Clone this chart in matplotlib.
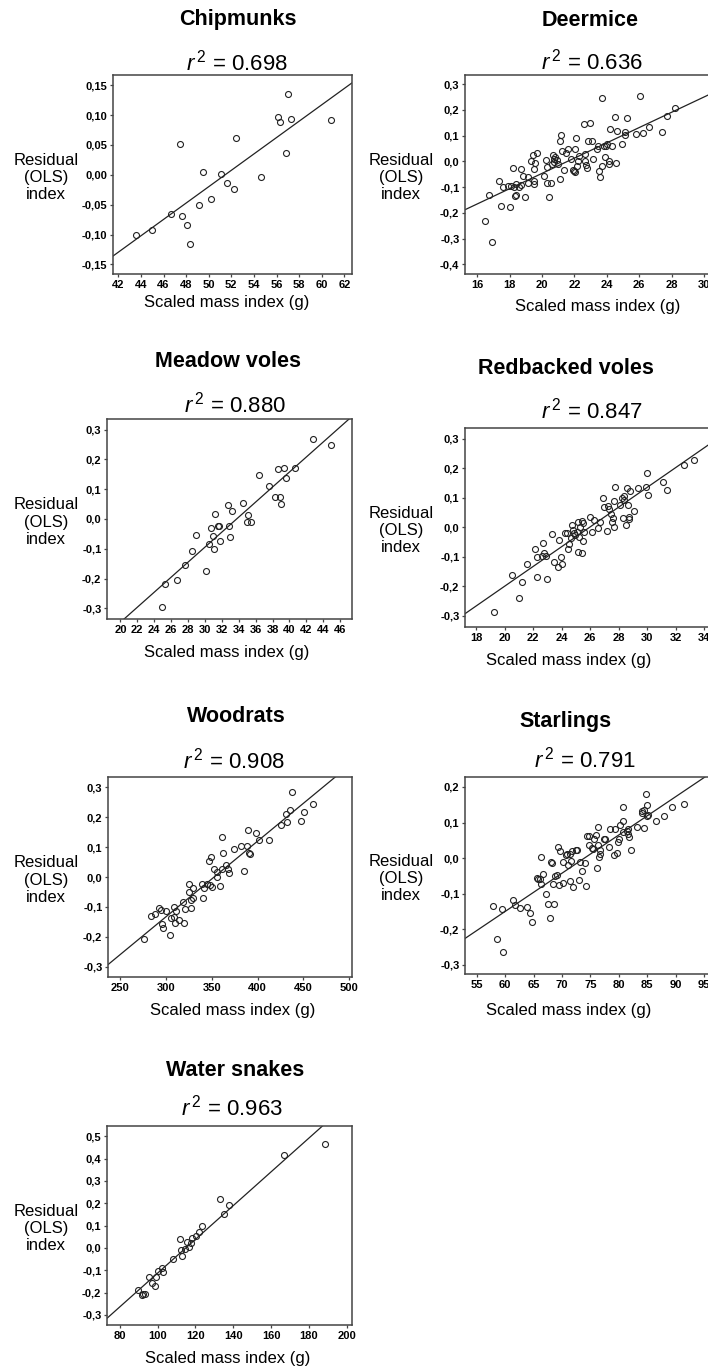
import matplotlib
matplotlib.use('Agg')
import matplotlib.pyplot as plt
from matplotlib.ticker import FixedLocator, FuncFormatter
import numpy as np

plt.rcParams['font.family'] = ['Liberation Sans', 'DejaVu Sans']
plt.rcParams['mathtext.fontset'] = 'custom'
plt.rcParams['mathtext.rm'] = 'Liberation Sans'
plt.rcParams['mathtext.it'] = 'Liberation Sans:italic'

W, H = 708, 1371

# --- data ---
species = ['Chipmunks', 'Deermice', 'Meadow voles', 'Redbacked voles',
           'Woodrats', 'Starlings', 'Water snakes']
r_squared = ['0.698', '0.636', '0.880', '0.847', '0.908', '0.791', '0.963']

chip_x = [43.6, 45.0, 46.7, 47.5, 47.6, 48.1, 48.3, 49.1, 49.5, 50.2, 51.1,
          51.6, 52.2, 52.4, 54.6, 56.1, 56.3, 56.8, 57.0, 57.3, 60.8]
chip_y = [-0.100, -0.092, -0.066, 0.052, -0.069, -0.084, -0.115, -0.050,
          0.004, -0.040, 0.002, -0.013, -0.024, 0.062, -0.003, 0.096, 0.088,
          0.036, 0.136, 0.094, 0.092]

deer_x = [16.47, 16.72, 16.91, 17.32, 17.46, 17.61, 17.91, 18.00, 18.08,
          18.22, 18.29, 18.35, 18.41, 18.41, 18.55, 18.68, 18.68, 18.82,
          18.92, 19.11, 19.11, 19.31, 19.42, 19.50, 19.50, 19.50, 19.56,
          19.70, 20.12, 20.24, 20.30, 20.30, 20.43, 20.53, 20.59, 20.70,
          20.74, 20.76, 20.80, 20.90, 21.00, 21.11, 21.11, 21.19, 21.25,
          21.35, 21.46, 21.58, 21.79, 21.89, 21.97, 22.03, 22.03, 22.07,
          22.14, 22.20, 22.28, 22.59, 22.65, 22.67, 22.73, 22.79, 22.81,
          22.94, 23.08, 23.12, 23.41, 23.45, 23.50, 23.56, 23.68, 23.68,
          23.83, 23.87, 23.93, 24.01, 24.11, 24.15, 24.19, 24.34, 24.48,
          24.57, 24.61, 24.92, 25.12, 25.12, 25.22, 25.80, 26.05, 26.25,
          26.58, 27.39, 27.69, 28.21]
deer_y = [-0.232, -0.131, -0.313, -0.075, -0.175, -0.101, -0.095, -0.179,
          -0.095, -0.025, -0.101, -0.134, -0.088, -0.130, -0.099, -0.030,
          -0.091, -0.056, -0.140, -0.062, -0.086, 0.001, 0.026, -0.075,
          -0.088, -0.030, -0.006, 0.032, -0.057, 0.005, -0.023, -0.083,
          -0.137, -0.083, -0.010, 0.026, 0.009, -0.004, 0.016, 0.005,
          -0.010, -0.069, 0.080, 0.104, 0.042, -0.034, 0.032, 0.048, 0.009,
          -0.032, -0.036, 0.048, -0.042, 0.092, -0.017, 0.003, 0.022, 0.147,
          0.003, 0.030, -0.013, -0.026, 0.080, 0.150, 0.080, 0.009, 0.048,
          0.061, -0.036, -0.062, 0.246, -0.019, 0.061, 0.016, 0.061, 0.067,
          -0.010, 0.003, 0.126, 0.058, 0.171, -0.008, 0.119, 0.069, 0.115,
          0.104, 0.167, 0.105, 0.256, 0.112, 0.135, 0.113, 0.176, 0.206]

mvole_x = [24.97, 25.24, 26.70, 27.65, 28.52, 28.99, 30.17, 30.49, 30.77,
           31.00, 31.12, 31.20, 31.51, 31.63, 31.75, 32.78, 32.86, 32.93,
           33.25, 34.47, 35.02, 35.06, 35.42, 36.40, 37.55, 38.34, 38.69,
           38.89, 39.01, 39.40, 39.60, 40.70, 42.83, 44.96]
mvole_y = [-0.296, -0.218, -0.206, -0.155, -0.107, -0.053, -0.175, -0.085,
           -0.031, -0.058, -0.100, 0.017, -0.025, -0.025, -0.073, 0.047,
           -0.022, -0.059, 0.026, 0.055, -0.011, 0.015, -0.009, 0.148, 0.112,
           0.075, 0.167, 0.075, 0.049, 0.171, 0.139, 0.171, 0.270, 0.249]

rvole_x = [19.29, 20.55, 21.01, 21.22, 21.55, 22.16, 22.25, 22.30, 22.60,
           22.72, 22.77, 22.88, 22.98, 23.30, 23.49, 23.72, 23.84, 23.93,
           24.00, 24.24, 24.38, 24.47, 24.52, 24.64, 24.71, 24.82, 24.89,
           24.94, 25.06, 25.13, 25.13, 25.20, 25.31, 25.41, 25.43, 25.50,
           25.52, 25.57, 26.01, 26.11, 26.27, 26.53, 26.69, 26.88, 27.00,
           27.18, 27.28, 27.35, 27.46, 27.53, 27.60, 27.65, 27.67, 27.74,
           28.12, 28.21, 28.28, 28.35, 28.40, 28.49, 28.56, 28.68, 28.72,
           28.75, 28.82, 29.05, 29.38, 29.89, 30.01, 30.08, 31.08, 31.36,
           32.60, 33.28]
rvole_y = [-0.287, -0.162, -0.239, -0.186, -0.124, -0.074, -0.169, -0.101,
           -0.099, -0.052, -0.088, -0.098, -0.176, -0.023, -0.119, -0.135,
           -0.044, -0.101, -0.125, -0.020, -0.020, -0.073, -0.057, -0.037,
           0.006, -0.009, -0.020, -0.028, -0.015, -0.084, 0.019, -0.032,
           0.002, 0.021, -0.086, 0.014, -0.046, -0.015, 0.033, -0.015, 0.023,
           -0.001, 0.016, 0.100, 0.070, -0.012, 0.072, 0.062, 0.045, 0.016,
           0.030, 0.089, 0.000, 0.137, 0.075, 0.100, 0.030, 0.092, 0.104,
           0.008, 0.134, 0.075, 0.027, 0.034, 0.123, 0.055, 0.134, 0.137,
           0.182, 0.109, 0.152, 0.126, 0.211, 0.226]

wood_x = [275.5, 283.9, 288.3, 292.7, 294.2, 295.6, 296.0, 299.3, 304.4,
          305.5, 309.1, 308.8, 309.5, 311.3, 313.9, 317.9, 319.0, 320.8,
          324.8, 325.5, 327.0, 327.7, 328.8, 329.6, 339.1, 340.1, 341.2,
          344.9, 346.7, 347.8, 348.9, 349.6, 352.2, 355.5, 355.8, 358.8,
          360.6, 361.3, 362.4, 365.3, 367.2, 368.2, 373.7, 382.1, 388.0,
          385.0, 389.4, 390.5, 391.6, 397.8, 401.8, 412.8, 425.5, 431.0,
          432.5, 435.4, 437.6, 447.1, 451.1, 460.2]
wood_y = [-0.207, -0.129, -0.122, -0.105, -0.110, -0.158, -0.171, -0.113,
          -0.194, -0.138, -0.099, -0.133, -0.152, -0.114, -0.142, -0.084,
          -0.155, -0.108, -0.025, -0.049, -0.077, -0.105, -0.038, -0.069,
          -0.025, -0.071, -0.036, -0.025, 0.054, -0.027, 0.068, -0.035,
          0.027, 0.018, 0.001, -0.030, 0.027, 0.135, 0.081, 0.040, 0.027,
          0.014, 0.094, 0.105, 0.105, 0.021, 0.157, 0.081, 0.077, 0.146,
          0.124, 0.124, 0.172, 0.209, 0.185, 0.224, 0.282, 0.187, 0.217,
          0.242]

star_x = [57.81, 58.52, 59.40, 59.57, 61.45, 61.68, 62.62, 63.85, 64.38,
          64.73, 65.61, 65.85, 66.14, 66.26, 66.32, 66.67, 67.19, 67.49,
          67.90, 68.07, 68.19, 68.43, 68.66, 68.78, 69.13, 69.36, 69.48,
          69.72, 70.18, 70.24, 70.65, 70.83, 71.12, 71.36, 71.42, 71.59,
          71.71, 72.00, 72.41, 72.59, 73.00, 73.17, 73.58, 74.11, 74.23,
          74.46, 74.82, 74.76, 75.23, 75.46, 75.70, 75.99, 76.22, 76.28,
          76.40, 76.52, 76.63, 76.69, 77.34, 77.57, 78.28, 78.45, 79.15,
          79.33, 79.62, 79.80, 80.09, 80.27, 80.68, 80.74, 80.80, 81.38,
          81.56, 81.68, 81.85, 82.14, 83.14, 84.02, 84.14, 84.43, 84.49,
          84.72, 84.96, 85.02, 85.19, 86.54, 88.01, 89.41, 91.41]
star_y = [-0.135, -0.227, -0.142, -0.263, -0.118, -0.133, -0.140, -0.137,
          -0.155, -0.179, -0.056, -0.058, -0.059, 0.002, -0.073, -0.045,
          -0.100, -0.130, -0.169, -0.012, -0.014, -0.073, -0.130, -0.051,
          -0.047, 0.031, -0.077, 0.020, -0.070, -0.011, 0.009, 0.012,
          -0.019, -0.065, 0.011, -0.007, 0.020, -0.082, 0.022, 0.023, -0.063,
          -0.011, -0.037, -0.015, -0.078, 0.062, 0.063, 0.037, 0.028, 0.025,
          0.053, 0.065, -0.028, 0.037, 0.086, 0.002, 0.011, 0.023, 0.054,
          0.054, 0.031, 0.082, 0.009, 0.082, 0.014, 0.044, 0.053, 0.093,
          0.144, 0.104, 0.074, 0.076, 0.067, 0.082, 0.060, 0.023, 0.088,
          0.126, 0.132, 0.084, 0.135, 0.179, 0.149, 0.119, 0.121, 0.104,
          0.118, 0.144, 0.153]

snake_x = [89.9, 91.8, 92.5, 93.2, 95.5, 97.3, 98.7, 99.0, 100.5, 102.2,
           102.8, 108.2, 112.1, 112.3, 113.0, 114.4, 115.4, 116.5, 117.7,
           118.1, 120.4, 122.0, 123.7, 132.9, 135.4, 137.7, 166.9, 188.5]
snake_y = [-0.188, -0.211, -0.208, -0.205, -0.132, -0.156, -0.171, -0.129,
           -0.105, -0.090, -0.109, -0.051, 0.038, -0.010, -0.035, -0.005,
           0.028, 0.005, 0.023, 0.043, 0.053, 0.070, 0.099, 0.217, 0.154,
           0.192, 0.415, 0.464]

# OLS fit lines (slope, intercept)
fit_slope = [0.0137, 0.0297, 0.02524, 0.0335, 0.002518, 0.01076, 0.00756]
fit_icept = [-0.7049, -0.6406, -0.8517, -0.8702, -0.8875, -0.7957, -0.8691]

xs = [chip_x, deer_x, mvole_x, rvole_x, wood_x, star_x, snake_x]
ys = [chip_y, deer_y, mvole_y, rvole_y, wood_y, star_y, snake_y]

# axis ranges and ticks
xlims = [(41.53, 62.68), (15.24, 30.99), (18.41, 47.4), (17.23, 35.11),
         (236.4, 503.2), (52.94, 97.79), (73.3, 202.8)]
ylims = [(-0.166, 0.167), (-0.438, 0.336), (-0.336, 0.336), (-0.338, 0.336),
         (-0.3335, 0.3335), (-0.326, 0.228), (-0.345, 0.546)]
xticks = [np.arange(42, 63, 2), np.arange(16, 31, 2), np.arange(20, 47, 2),
          np.arange(18, 35, 2), np.arange(250, 501, 50), np.arange(55, 96, 5),
          np.arange(80, 201, 20)]
yticks = [np.arange(-0.15, 0.151, 0.05), np.arange(-0.4, 0.31, 0.1),
          np.arange(-0.3, 0.31, 0.1), np.arange(-0.3, 0.31, 0.1),
          np.arange(-0.3, 0.31, 0.1), np.arange(-0.3, 0.21, 0.1),
          np.arange(-0.3, 0.51, 0.1)]
ydec = [2, 1, 1, 1, 1, 1, 1]

# --- layout in pixels: axes box (left, top, right, bottom) ---
boxes = [(113, 75, 352, 274), (465, 75, 720, 274),
         (107, 419, 352, 619), (465, 428, 720, 627),
         (108, 777, 352, 977), (465, 777, 720, 974),
         (107, 1126, 352, 1325)]
title_xy = [(238, 20), (590, 21), (228, 362), (566, 368),
            (236, 717), (566, 722), (235, 1070)]
r2_xy = [(237, 63), (592, 62), (235, 405), (592, 411),
         (234, 761), (585, 760), (232, 1108)]
xlab_xy = [(227, 302), (598, 307), (227, 652), (569, 660),
           (233, 1010), (569, 1010), (228, 1358)]
ylab_x = [46, 401, 46, 401, 46, 401, 46]

fig = plt.figure(figsize=(W / 100, H / 100), dpi=100)
fig.patch.set_facecolor('white')


def px(x, y):
    return x / W, 1 - y / H


def comma_fmt(dec):
    return FuncFormatter(lambda v, p: f'{v:.{dec}f}'.replace('.', ',')
                         .replace('-0,' + '0' * dec, '0,' + '0' * dec))


for i, name in enumerate(species):
    l, t, r, b = boxes[i]
    ax = fig.add_axes([l / W, 1 - b / H, (r - l) / W, (b - t) / H])
    ax.plot(xs[i], ys[i], 'o', mfc='none', mec='#222222', ms=4.3, mew=0.8,
            clip_on=False)
    ax.axline((0, fit_icept[i]), slope=fit_slope[i], color='#222222', lw=0.9)
    ax.set_xlim(*xlims[i])
    ax.set_ylim(*ylims[i])
    ax.xaxis.set_major_locator(FixedLocator(xticks[i]))
    ax.yaxis.set_major_locator(FixedLocator(yticks[i]))
    ax.yaxis.set_major_formatter(comma_fmt(ydec[i]))
    ax.xaxis.set_major_formatter(FuncFormatter(lambda v, p: f'{v:g}'))
    for s in ax.spines.values():
        s.set_color('#444444')
        s.set_linewidth(1.1)
    ax.tick_params(direction='out', length=2.5, width=0.9, color='#444444',
                   pad=1.5, labelsize=8)
    for lab in ax.get_xticklabels() + ax.get_yticklabels():
        lab.set_fontweight('bold')

    fig.text(*px(*title_xy[i]), name, ha='center', va='center',
             fontsize=15.5, fontweight='bold')
    fig.text(*px(*r2_xy[i]), r'$r^{\,2}$ = ' + r_squared[i], ha='center',
             va='center', fontsize=16)
    fig.text(*px(*xlab_xy[i]), 'Scaled mass index (g)', ha='center',
             va='center', fontsize=12)
    fig.text(*px(ylab_x[i], (t + b) / 2 + 3), 'Residual\n(OLS)\nindex',
             ha='center', va='center', fontsize=12, linespacing=1.2)

fig.savefig('out.png', dpi=100, facecolor='white')
